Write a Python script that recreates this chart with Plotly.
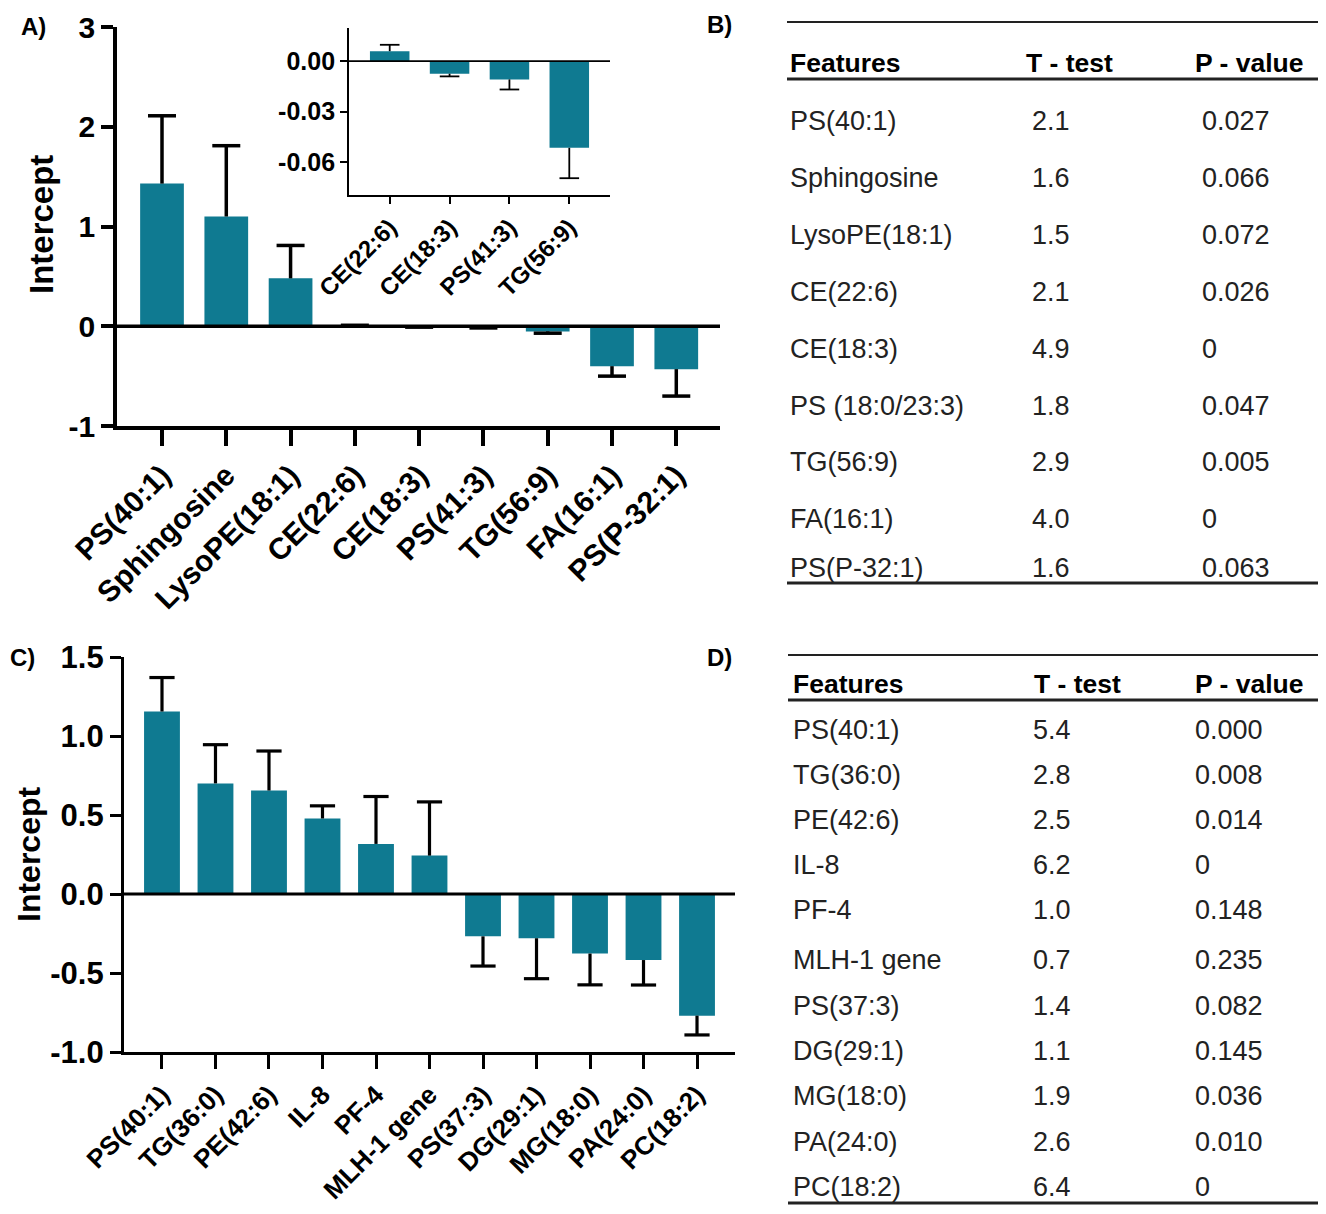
import plotly.graph_objects as go

# The page body has an 8px margin, so the figure is sized to fill the rest of the window
OFF = 8
W, H = 1326 - OFF, 1214 - OFF
TEAL = "#0f7a91"
FONT = "Liberation Sans, Arial, sans-serif"

# ---------------- data ----------------
a_features = ["PS(40:1)", "Sphingosine", "LysoPE(18:1)", "CE(22:6)", "CE(18:3)",
              "PS(41:3)", "TG(56:9)", "FA(16:1)", "PS(P-32:1)"]
a_values = [1.43, 1.10, 0.48, 0.0059, -0.0075, -0.0109, -0.0516, -0.40, -0.43]
a_errors = [0.68, 0.71, 0.33, 0.0038, 0.0016, 0.0060, 0.0181, 0.10, 0.27]
a_yticks = [-1, 0, 1, 2, 3]
a_yticktext = ["-1", "0", "1", "2", "3"]

inset_features = a_features[3:7]
inset_values = a_values[3:7]
inset_errors = a_errors[3:7]
inset_yticks = [0.0, -0.03, -0.06]
inset_yticktext = ["0.00", "-0.03", "-0.06"]

c_features = ["PS(40:1)", "TG(36:0)", "PE(42:6)", "IL-8", "PF-4", "MLH-1 gene",
              "PS(37:3)", "DG(29:1)", "MG(18:0)", "PA(24:0)", "PC(18:2)"]
c_values = [1.155, 0.70, 0.655, 0.478, 0.317, 0.243, -0.268, -0.280, -0.377, -0.418, -0.770]
c_errors = [0.215, 0.245, 0.250, 0.080, 0.300, 0.340, 0.188, 0.256, 0.198, 0.158, 0.122]
c_yticks = [-1.0, -0.5, 0.0, 0.5, 1.0, 1.5]
c_yticktext = ["-1.0", "-0.5", "0.0", "0.5", "1.0", "1.5"]

table_headers = ["Features", "T - test", "P - value"]

b_features = ["PS(40:1)", "Sphingosine", "LysoPE(18:1)", "CE(22:6)", "CE(18:3)",
              "PS (18:0/23:3)", "TG(56:9)", "FA(16:1)", "PS(P-32:1)"]
b_ttest = ["2.1", "1.6", "1.5", "2.1", "4.9", "1.8", "2.9", "4.0", "1.6"]
b_pvalue = ["0.027", "0.066", "0.072", "0.026", "0", "0.047", "0.005", "0", "0.063"]

d_features = ["PS(40:1)", "TG(36:0)", "PE(42:6)", "IL-8", "PF-4", "MLH-1 gene",
              "PS(37:3)", "DG(29:1)", "MG(18:0)", "PA(24:0)", "PC(18:2)"]
d_ttest = ["5.4", "2.8", "2.5", "6.2", "1.0", "0.7", "1.4", "1.1", "1.9", "2.6", "6.4"]
d_pvalue = ["0.000", "0.008", "0.014", "0", "0.148", "0.235", "0.082", "0.145", "0.036", "0.010", "0"]


# ---------------- helpers (window pixel -> paper fraction) ----------------
def px(x):
    return (x - OFF) / W


def py(y):
    return 1 - (y - OFF) / H


fig = go.Figure()


def add_bars(cats, vals, errs, xa, ya, width, thick, capsize):
    up = [e if v >= 0 else 0 for v, e in zip(vals, errs)]
    dn = [0 if v >= 0 else e for v, e in zip(vals, errs)]
    fig.add_trace(go.Bar(
        x=cats, y=vals, xaxis=xa, yaxis=ya, width=width,
        marker=dict(color=TEAL, line=dict(width=0)),
        error_y=dict(type="data", symmetric=False, array=up, arrayminus=dn,
                     width=0, thickness=thick, color="black"),
        showlegend=False, hoverinfo="skip"))
    tips = [v + u - d for v, u, d in zip(vals, up, dn)]
    fig.add_trace(go.Scatter(
        x=cats, y=tips, xaxis=xa, yaxis=ya, mode="markers",
        marker=dict(symbol="line-ew", size=capsize, color="black",
                    line=dict(width=thick, color="black")),
        showlegend=False, hoverinfo="skip"))


add_bars(a_features, a_values, a_errors, "x", "y", 0.68, 3.5, 20)
add_bars(inset_features, inset_values, inset_errors, "x3", "y3", 0.66, 1.8, 14)
add_bars(c_features, c_values, c_errors, "x2", "y2", 0.67, 3.2, 18)

bold = dict(family=FONT, color="black", weight="bold")


def axis_common(**kw):
    d = dict(showgrid=False, zeroline=False, showline=True, linecolor="black",
             ticks="outside", tickcolor="black", fixedrange=True, automargin=False)
    d.update(kw)
    return d


fig.update_layout(
    width=W, height=H, margin=dict(l=0, r=0, t=0, b=0, autoexpand=False),
    paper_bgcolor="white", plot_bgcolor="rgba(0,0,0,0)",
    font=dict(family=FONT, color="black"),
    xaxis=axis_common(domain=[px(117), px(720)], anchor="y", range=[-0.7, 8.68],
                      linewidth=3.5, tickwidth=3.5, ticklen=16, tickangle=-45,
                      tickfont=dict(size=30, **bold)),
    yaxis=axis_common(domain=[py(426), py(27)], anchor="x", range=[-1, 3],
                      tickvals=a_yticks, ticktext=a_yticktext,
                      linewidth=3.5, tickwidth=3.5, ticklen=12,
                      tickfont=dict(size=30, **bold)),
    xaxis3=axis_common(domain=[px(349), px(610)], anchor="y3", range=[-0.68, 3.68],
                       linewidth=1.8, tickwidth=1.8, ticklen=7, tickangle=-45,
                       tickfont=dict(size=24, **bold)),
    yaxis3=axis_common(domain=[py(195), py(28)], anchor="x3", range=[-0.0797, 0.0197],
                       tickvals=inset_yticks, ticktext=inset_yticktext,
                       linewidth=1.8, tickwidth=1.8, ticklen=7,
                       tickfont=dict(size=25, **bold)),
    xaxis2=axis_common(domain=[px(124), px(735)], anchor="y2", range=[-0.71, 10.71],
                       linewidth=3.2, tickwidth=3.2, ticklen=14, tickangle=-45,
                       tickfont=dict(size=26, **bold)),
    yaxis2=axis_common(domain=[py(1052), py(657)], anchor="x2", range=[-1.0, 1.5],
                       tickvals=c_yticks, ticktext=c_yticktext,
                       linewidth=3.2, tickwidth=3.2, ticklen=11,
                       tickfont=dict(size=31, **bold)),
)

shapes = []
# zero lines on top of bars
for xr, yr, w in [("x", "y", 3.5), ("x3", "y3", 1.8), ("x2", "y2", 3.2)]:
    shapes.append(dict(type="line", xref=f"{xr} domain", yref=yr, x0=0, x1=1, y0=0, y1=0,
                       line=dict(color="black", width=w), layer="above"))

annotations = []
# y-axis titles
annotations.append(dict(text="<b>Intercept</b>", x=px(41), y=py(225), xref="paper", yref="paper",
                        xanchor="center", yanchor="middle",
                        textangle=-90, showarrow=False, font=dict(size=33, family=FONT, color="black")))
annotations.append(dict(text="<b>Intercept</b>", x=px(29), y=py(855), xref="paper", yref="paper",
                        xanchor="center", yanchor="middle",
                        textangle=-90, showarrow=False, font=dict(size=32, family=FONT, color="black")))
# panel letters
for lab, x, y in [("A)", 33, 27), ("B)", 720, 25), ("C)", 22, 657), ("D)", 720, 657)]:
    annotations.append(dict(text=f"<b>{lab}</b>", x=px(x), y=py(y), xref="paper", yref="paper",
                            xanchor="center", yanchor="middle",
                            showarrow=False, font=dict(size=24, family=FONT, color="black")))


def add_table(feats, tvals, pvals, top, header_y, under, rows_y, bottom,
              col_hdr, col_val, x0, x1):
    for yy, lw in [(top, 2.2), (under, 2.8), (bottom, 2.8)]:
        shapes.append(dict(type="line", xref="paper", yref="paper",
                           x0=px(x0), x1=px(x1), y0=py(yy), y1=py(yy),
                           line=dict(color="#222", width=lw)))
    for h, cx in zip(table_headers, col_hdr):
        annotations.append(dict(text=f"<b>{h}</b>", x=px(cx), y=py(header_y), xref="paper",
                                yref="paper", xanchor="left", yanchor="middle", showarrow=False,
                                font=dict(size=26.5, family=FONT, color="black")))
    for i, (f, t, p) in enumerate(zip(feats, tvals, pvals)):
        for txt, cx in zip([f, t, p], col_val):
            annotations.append(dict(text=txt, x=px(cx), y=py(rows_y[i]), xref="paper",
                                    yref="paper", xanchor="left", yanchor="middle",
                                    showarrow=False,
                                    font=dict(size=27, family=FONT, color="#222")))


b_rows_y = [121, 178, 235, 292, 349, 406, 462, 519, 568]
add_table(b_features, b_ttest, b_pvalue, 22, 63, 79, b_rows_y, 583,
          [788, 1024, 1193], [788, 1030, 1200], 787, 1326)

d_rows_y = [730, 775, 820, 865, 910, 960, 1006, 1051, 1096, 1142, 1187]
add_table(d_features, d_ttest, d_pvalue, 655, 684, 700, d_rows_y, 1203,
          [791, 1032, 1193], [791, 1031, 1193], 788, 1326)

fig.update_layout(shapes=shapes, annotations=annotations)

fig.write_html("out.html")
